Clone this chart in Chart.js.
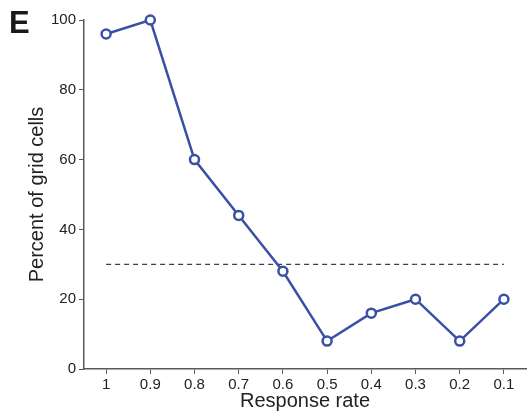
<!DOCTYPE html>
<html>
<head>
<meta charset="utf-8">
<script src="https://cdn.jsdelivr.net/npm/chart.js@4"></script>
<style>
  html, body { margin: 0; padding: 0; background: #fff; }
  #wrap { width: 527px; height: 414px; }
</style>
</head>
<body>
<div id="wrap"><canvas id="gridChart"></canvas></div>
<script>
// data
const rateLabels = ['1', '0.9', '0.8', '0.7', '0.6', '0.5', '0.4', '0.3', '0.2', '0.1'];
const percentGrid = [96, 100, 60, 44, 28, 8, 16, 20, 8, 20];
const thresholdLevel = 30;
const thresholdLine = rateLabels.map(() => thresholdLevel);

const blue = '#3a50a6';
const axisGrey = '#5a5a5a';
const fontFamily = "'Liberation Sans', Arial, sans-serif";

// the point markers otherwise reserve extra space on the right edge
const LineCtl = Chart.registry.getController('line');
LineCtl.prototype.getMaxOverflow = function() { return 0; };

// panel letter
const panelLetter = {
    id: 'panelLetter',
    afterDraw(chart) {
        const ctx = chart.ctx;
        ctx.save();
        ctx.fillStyle = '#1a1a1a';
        ctx.font = "bold 31px " + fontFamily;
        ctx.textBaseline = 'alphabetic';
        ctx.fillText('E', 9, 33);
        ctx.restore();
    }
};

new Chart(document.getElementById('gridChart'), {
    type: 'line',
    data: {
        labels: rateLabels,
        datasets: [
            {
                data: percentGrid,
                borderColor: blue,
                borderWidth: 2.5,
                pointRadius: 4.5,
                pointBorderWidth: 2.5,
                pointBorderColor: blue,
                pointBackgroundColor: '#fff',
                tension: 0,
                clip: false
            },
            {
                data: thresholdLine,
                borderColor: '#111',
                borderWidth: 1,
                borderDash: [5, 4],
                pointRadius: 0,
                tension: 0,
                clip: false
            }
        ]
    },
    options: {
        responsive: true,
        maintainAspectRatio: false,
        animation: false,
        layout: { padding: { left: 0, right: 1, top: 20, bottom: 0 } },
        plugins: {
            legend: { display: false },
            tooltip: { enabled: false }
        },
        scales: {
            x: {
                offset: true,
                grid: { display: true, drawOnChartArea: false, drawTicks: true, tickLength: 5, color: axisGrey, offset: false },
                border: { color: axisGrey, width: 1.5 },
                ticks: { color: '#222', padding: 2, maxRotation: 0, font: { size: 15, family: fontFamily } },
                title: { display: true, text: 'Response rate', color: '#222', padding: { top: 0, bottom: 1 }, font: { size: 20, family: fontFamily } },
                afterFit: (scale) => {
                    scale.height = 45;
                    scale.paddingLeft = 0;
                    scale.paddingRight = 0;
                }
            },
            y: {
                min: 0,
                max: 100,
                grid: { display: true, drawOnChartArea: false, drawTicks: true, tickLength: 5, color: axisGrey },
                border: { color: axisGrey, width: 1.5 },
                ticks: { stepSize: 20, color: '#222', padding: 3, font: { size: 15, family: fontFamily } },
                title: { display: true, text: 'Percent of grid cells', color: '#222', padding: { top: 25, bottom: 0 }, font: { size: 20, family: fontFamily } },
                afterFit: (scale) => { scale.width = 84; }
            }
        }
    },
    plugins: [panelLetter]
});
</script>
</body>
</html>
